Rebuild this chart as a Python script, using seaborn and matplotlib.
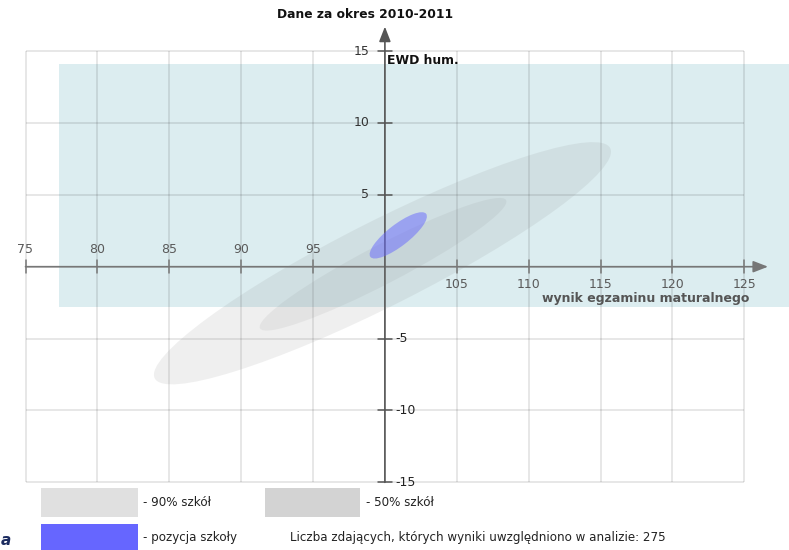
import matplotlib
matplotlib.use("Agg")
import matplotlib.pyplot as plt
from matplotlib.patches import Ellipse, Rectangle
import seaborn as sns

# data
x_ticks = [75, 80, 85, 90, 95, 100, 105, 110, 115, 120, 125]
y_ticks = [-15, -10, -5, 0, 5, 10, 15]
region_names = ["90% szkół", "50% szkół", "pozycja szkoły"]
region_cx = [99.83, 99.87, 100.93]
region_cy = [0.24, 0.17, 2.18]
region_len = [35.5, 19.3, 4.9]
region_wid = [5.9, 2.7, 1.5]
region_ang = [26.8, 27.5, 37.7]
band_x = [77.33, 130.0]
band_y = [-2.78, 14.1]
n_students = 275
period = "2010-2011"

sns.set_theme(style="white")
plt.rcParams["font.family"] = ["DejaVu Sans"]

W, H = 789, 550
fig = plt.figure(figsize=(W / 100, H / 100), dpi=100)
ax = fig.add_axes([0, 0, 1, 1])
scale = 14.376  # px per unit
x0 = 75 - 25.5 / scale
y1 = 266.7 / scale
ax.set_xlim(x0, x0 + W / scale)
ax.set_ylim(y1 - H / scale, y1)
ax.axis("off")


def fx(px):
    return px / W


def fy(py):
    return 1 - py / H


# light blue band
ax.add_patch(Rectangle((band_x[0], band_y[0]), band_x[1] - band_x[0], band_y[1] - band_y[0],
                       facecolor="#dcedf0", edgecolor="none", zorder=0))

# grid
xmin, xmax = min(x_ticks), max(x_ticks)
ymin, ymax = min(y_ticks), max(y_ticks)
ax.vlines(x_ticks, ymin, ymax, color="black", alpha=0.12, lw=1.1, zorder=1)
ax.hlines(y_ticks, xmin, xmax, color="black", alpha=0.12, lw=1.1, zorder=1)

# main axes with arrows
axc = "#777777"
ax.annotate("", xy=(126.65, 0), xytext=(xmin, 0),
            arrowprops=dict(arrowstyle="-|>,head_length=0.9,head_width=0.35", color=axc,
                            lw=1.2, shrinkA=0, shrinkB=0, mutation_scale=10), zorder=2)
ax.annotate("", xy=(100, 16.7), xytext=(100, ymin),
            arrowprops=dict(arrowstyle="-|>,head_length=0.9,head_width=0.35", color="#555555",
                            lw=1.2, shrinkA=0, shrinkB=0, mutation_scale=10), zorder=2)

# ticks and tick labels
for xt in x_ticks:
    if xt == 100:
        continue
    ax.plot([xt, xt], [-0.45, 0.45], color=axc, lw=1.1, zorder=2)
    if xt < 100:
        ax.text(xt, 1.23, str(xt), ha="center", va="center", fontsize=9, color="#5a5a5a", zorder=4)
    else:
        ax.text(xt, -1.27, str(xt), ha="center", va="center", fontsize=9, color="#5a5a5a", zorder=4)

for yt in y_ticks:
    if yt == 0:
        continue
    ax.plot([99.5, 100.5], [yt, yt], color="#555555", lw=1.1, zorder=2)
    if yt > 0:
        ax.text(98.9, yt, str(yt), ha="right", va="center", fontsize=9, color="#333333", zorder=4)
    else:
        ax.text(100.75, yt, str(yt), ha="left", va="center", fontsize=9, color="#222222", zorder=4)

# confidence regions
fills = [("#808080", 0.12), ("#808080", 0.1), ("#6666ff", 0.5)]
for i in range(len(region_names)):
    c, a = fills[i]
    ax.add_patch(Ellipse((region_cx[i], region_cy[i]), region_len[i], region_wid[i],
                         angle=region_ang[i], facecolor=c, alpha=a, edgecolor="none", zorder=3))

ax.text(100.15, 14.31, "EWD hum.", ha="left", va="center", fontsize=8.9, fontweight="bold",
        color="#111111", zorder=4)
ax.text(125.33, -2.2, "wynik egzaminu maturalnego", ha="right", va="center", fontsize=9,
        fontweight="bold", color="#555555", zorder=4)

fig.text(fx(365), fy(15), "Dane za okres " + period, ha="center", va="center", fontsize=8.8,
         fontweight="bold", color="#111111")

# legend
legend_boxes = [(41, 488, 138, 517, "#e0e0e0"), (265, 488, 360, 517, "#d3d3d3"),
                (41, 524, 138, 552, "#6666ff")]
for (l, t, r, b, c) in legend_boxes:
    fig.patches.append(Rectangle((fx(l), fy(b)), fx(r) - fx(l), fy(t) - fy(b),
                                 transform=fig.transFigure, facecolor=c, edgecolor="none"))
fs = 8.6
fig.text(fx(143), fy(502), "- " + region_names[0], ha="left", va="center", fontsize=fs, color="#222222")
fig.text(fx(366), fy(502), "- " + region_names[1], ha="left", va="center", fontsize=fs, color="#222222")
fig.text(fx(143), fy(537), "- " + region_names[2], ha="left", va="center", fontsize=fs, color="#222222")
fig.text(fx(290), fy(537), "Liczba zdających, których wyniki uwzględniono w analizie: %d" % n_students,
         ha="left", va="center", fontsize=fs, color="#222222")

# logo fragment in the corner
fig.text(fx(1), fy(548), "a", ha="left", va="bottom", fontsize=11, fontweight="bold",
         fontstyle="italic", color="#1c2c60")

fig.savefig("out.png", dpi=100)
